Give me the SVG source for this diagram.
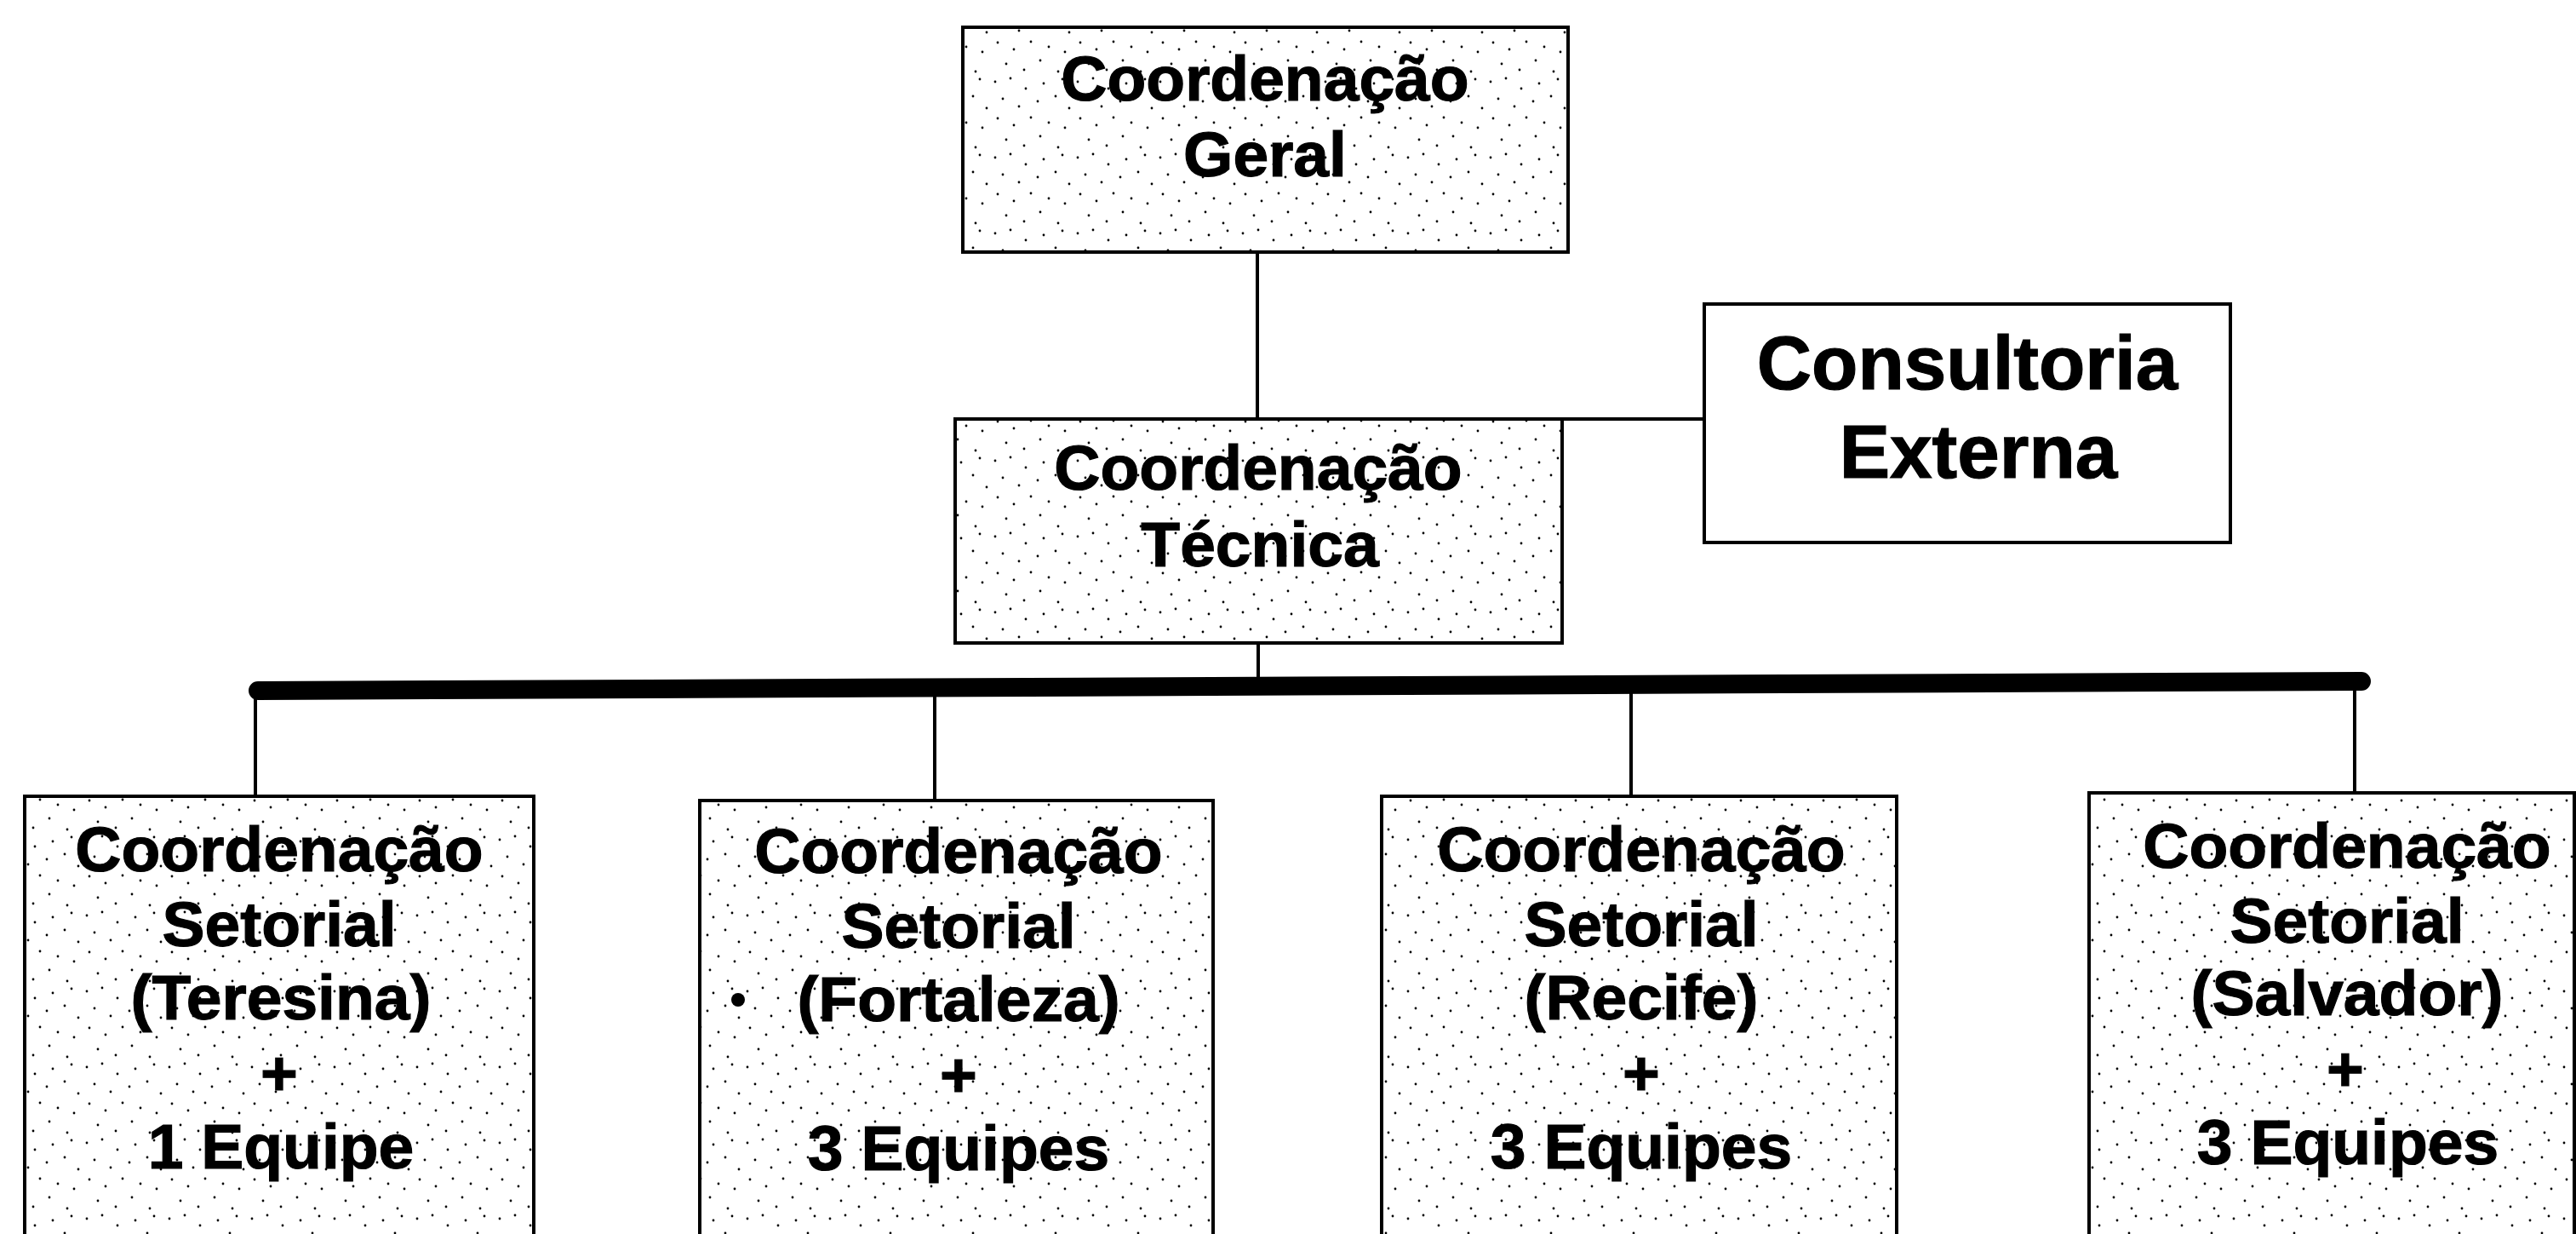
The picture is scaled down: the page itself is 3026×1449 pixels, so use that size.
<svg xmlns="http://www.w3.org/2000/svg" width="3026" height="1449" viewBox="0 0 3026 1449">
  <defs>
    <pattern id="stipple" width="97" height="89" patternUnits="userSpaceOnUse">
      <g fill="#000">
        <circle cx="5" cy="7" r="1.4"/><circle cx="23" cy="3" r="1.4"/><circle cx="41" cy="15" r="1.4"/>
        <circle cx="62" cy="9" r="1.4"/><circle cx="84" cy="4" r="1.4"/><circle cx="14" cy="27" r="1.4"/>
        <circle cx="33" cy="36" r="1.4"/><circle cx="55" cy="30" r="1.4"/><circle cx="76" cy="24" r="1.4"/>
        <circle cx="92" cy="38" r="1.4"/><circle cx="8" cy="50" r="1.4"/><circle cx="27" cy="58" r="1.4"/>
        <circle cx="47" cy="49" r="1.4"/><circle cx="68" cy="55" r="1.4"/><circle cx="87" cy="61" r="1.4"/>
        <circle cx="18" cy="75" r="1.4"/><circle cx="39" cy="82" r="1.4"/><circle cx="58" cy="71" r="1.4"/>
        <circle cx="79" cy="84" r="1.4"/>
      </g>
    </pattern>
  </defs>
  <style>
    .shaded { fill: url(#stipple); stroke: #000; stroke-width: 4; }
    .plain { fill: #fff; stroke: #000; stroke-width: 4; }
    .lbl { font-family: "Liberation Sans", Arial, Helvetica, sans-serif; font-weight: bold; font-size: 75px; text-anchor: middle; fill: #000; stroke: #000; stroke-width: 1.2; }
    .big { font-size: 89px; }
    .conn { stroke: #000; stroke-width: 4; fill: none; }
    .bus { stroke: #000; stroke-width: 22; stroke-linecap: round; fill: none; }
  </style>
  <rect width="3026" height="1449" fill="#fff"/>

  <g id="connectors">
    <line class="conn" x1="1477" y1="297" x2="1477" y2="492"/>
    <line class="conn" x1="1477" y1="492" x2="2002" y2="492"/>
    <line class="conn" x1="1478" y1="756" x2="1478" y2="806"/>
    <line class="bus" x1="303" y1="811" x2="2774" y2="800"/>
    <line class="conn" x1="300" y1="811" x2="300" y2="935"/>
    <line class="conn" x1="1098" y1="807" x2="1098" y2="940"/>
    <line class="conn" x1="1916" y1="804" x2="1916" y2="935"/>
    <line class="conn" x1="2766" y1="800" x2="2766" y2="931"/>
  </g>

  <g id="coord-geral">
    <rect class="shaded" x="1131" y="32" width="711" height="264"/>
    <text class="lbl" x="1486" y="118">Coordenação</text>
    <text class="lbl" x="1486" y="207">Geral</text>
  </g>

  <g id="consultoria-externa">
    <rect class="plain" x="2002" y="357" width="618" height="280"/>
    <text class="lbl big" x="2311" y="457">Consultoria</text>
    <text class="lbl big" x="2324" y="561">Externa</text>
  </g>

  <g id="coord-tecnica">
    <rect class="shaded" x="1122" y="492" width="713" height="263"/>
    <text class="lbl" x="1478" y="575">Coordenação</text>
    <text class="lbl" x="1480" y="665">Técnica</text>
  </g>

  <g id="setorial-teresina">
    <rect class="shaded" x="29" y="935" width="598" height="540"/>
    <text class="lbl" x="328" y="1023">Coordenação</text>
    <text class="lbl" x="328" y="1111">Setorial</text>
    <text class="lbl" x="330" y="1197">(Teresina)</text>
    <text class="lbl" x="328" y="1286">+</text>
    <text class="lbl" x="330" y="1372">1 Equipe</text>
  </g>

  <g id="setorial-fortaleza">
    <rect class="shaded" x="822" y="940" width="603" height="540"/>
    <circle cx="867" cy="1174" r="8" fill="#000"/>
    <text class="lbl" x="1126" y="1025">Coordenação</text>
    <text class="lbl" x="1126" y="1113">Setorial</text>
    <text class="lbl" x="1126" y="1199">(Fortaleza)</text>
    <text class="lbl" x="1126" y="1288">+</text>
    <text class="lbl" x="1126" y="1374">3 Equipes</text>
  </g>

  <g id="setorial-recife">
    <rect class="shaded" x="1623" y="935" width="605" height="540"/>
    <text class="lbl" x="1928" y="1023">Coordenação</text>
    <text class="lbl" x="1928" y="1111">Setorial</text>
    <text class="lbl" x="1928" y="1197">(Recife)</text>
    <text class="lbl" x="1928" y="1286">+</text>
    <text class="lbl" x="1928" y="1372">3 Equipes</text>
  </g>

  <g id="setorial-salvador">
    <rect class="shaded" x="2454" y="931" width="570" height="540"/>
    <text class="lbl" x="2757" y="1019">Coordenação</text>
    <text class="lbl" x="2757" y="1107">Setorial</text>
    <text class="lbl" x="2757" y="1192">(Salvador)</text>
    <text class="lbl" x="2755" y="1281">+</text>
    <text class="lbl" x="2758" y="1367">3 Equipes</text>
  </g>
</svg>
